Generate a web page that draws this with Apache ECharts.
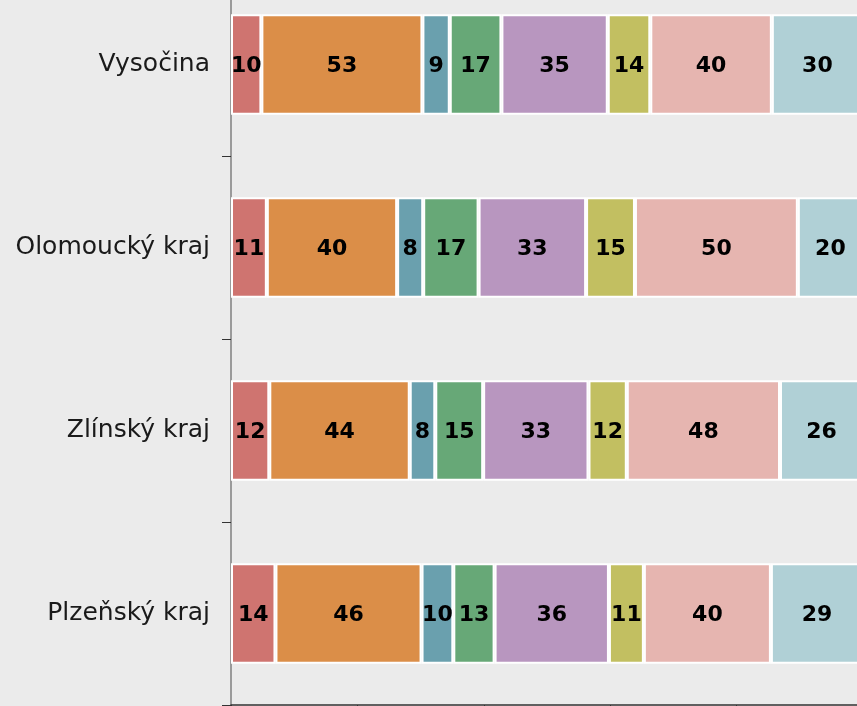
<!DOCTYPE html>
<html>
<head>
<meta charset="utf-8">
<title>Kraje</title>
<script src="https://cdn.jsdelivr.net/npm/echarts@6/dist/echarts.min.js"></script>
<style>
    html, body { margin: 0; padding: 0; background: #ebebeb; overflow: hidden; }
    body { width: 857px; height: 706px; position: relative; }
    /* graf je vetsi nez okno - orezany nahore a vpravo jako predloha */
    #chart { position: absolute; left: 0; top: -27px; width: 863px; height: 733px; }
</style>
</head>
<body>
<div id="chart"></div>
<script>
    // kraje shora dolu
    var kraje = ['Vysočina', 'Olomoucký kraj', 'Zlínský kraj', 'Plzeňský kraj'];

    // hodnoty jednotlivych skupin (poradi zleva doprava)
    var skupina1 = [10, 11, 12, 14];
    var skupina2 = [53, 40, 44, 46];
    var skupina3 = [9, 8, 8, 10];
    var skupina4 = [17, 17, 15, 13];
    var skupina5 = [35, 33, 33, 36];
    var skupina6 = [14, 15, 12, 11];
    var skupina7 = [40, 50, 48, 40];
    var skupina8 = [30, 20, 26, 29];

    var skupiny = [skupina1, skupina2, skupina3, skupina4, skupina5, skupina6, skupina7, skupina8];
    var nazvy = ['Skupina 1', 'Skupina 2', 'Skupina 3', 'Skupina 4', 'Skupina 5', 'Skupina 6', 'Skupina 7', 'Skupina 8'];
    var barvy = ['#cf7470', '#db8e48', '#6aa0ae', '#67a877', '#b896bf', '#c2bf61', '#e6b5b0', '#b0d0d6'];

    // soucty za kraj - sloupce jsou vyplnene na 100 %
    var soucty = kraje.map(function (k, i) {
        var s = 0;
        skupiny.forEach(function (arr) { s += arr[i]; });
        return s;
    });

    var series = skupiny.map(function (arr, j) {
        return {
            name: nazvy[j],
            type: 'bar',
            stack: 'celkem',
            barCategoryGap: '45%',
            itemStyle: { color: barvy[j], borderColor: '#ffffff', borderWidth: 2 },
            label: {
                show: true,
                position: 'inside',
                offset: [0, 2],
                color: '#000',
                fontFamily: 'DejaVu Sans',
                fontWeight: 'bold',
                fontSize: 22,
                formatter: function (p) { return p.data.raw; }
            },
            data: arr.map(function (v, i) {
                return { value: v / soucty[i], raw: v };
            })
        };
    });

    var chart = echarts.init(document.getElementById('chart'));
    chart.setOption({
        backgroundColor: '#ebebeb',
        animation: false,
        grid: { left: 231, right: 0, top: 0, bottom: 1, containLabel: false },
        xAxis: {
            type: 'value',
            min: 0,
            max: 1,
            interval: 0.2,
            axisLine: { show: true, lineStyle: { color: '#333', width: 1.5 } },
            axisTick: { show: true, length: 6, lineStyle: { color: '#333' } },
            axisLabel: { show: false },
            splitLine: { show: false }
        },
        yAxis: {
            type: 'category',
            inverse: true,
            data: kraje,
            axisLine: { show: true, lineStyle: { color: '#7f7f7f', width: 1.5 } },
            axisTick: { show: true, length: 9, lineStyle: { color: '#333' } },
            axisLabel: {
                margin: 21,
                padding: [5, 0, 0, 0],
                color: '#1a1a1a',
                fontFamily: 'DejaVu Sans',
                fontSize: 25
            }
        },
        series: series
    });
</script>
</body>
</html>
